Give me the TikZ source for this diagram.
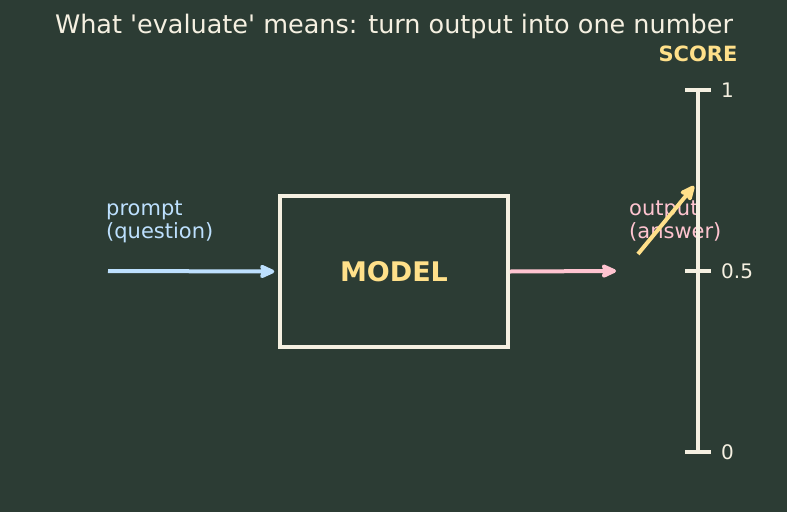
\documentclass[tikz,border=0pt]{standalone}
\usepackage{fontspec}
\setmainfont{DejaVu Sans}
\usepackage{tikz}
\usetikzlibrary{positioning, arrows.meta, calc}
\definecolor{bgd}{HTML}{2C3C34}
\definecolor{chalk}{HTML}{F5F0E1}
\definecolor{gold}{HTML}{FFE08A}
\definecolor{skyb}{HTML}{BDE0FE}
\definecolor{pinkish}{HTML}{FFC4D0}

\begin{document}
\begin{tikzpicture}[x=1pt, y=-1pt,
    flow/.style={line width=4pt, -{Stealth[length=18pt, width=16pt, inset=3pt, round]}},
    lbl/.style={font=\fontsize{21}{23}\selectfont, align=left, inner sep=0pt, anchor=north west},
    tick/.style={line width=3.5pt, chalk}]
    \fill[bgd] (0,0) rectangle (787,512);
    \useasboundingbox (0,0) rectangle (787,512);

    % title
    \node[text=chalk, font=\fontsize{25.5}{28}\selectfont] (title) at (394,26)
      {What \textquotesingle evaluate\textquotesingle{} means: turn output into one number};

    % model box
    \node[draw=chalk, line width=3.5pt, minimum width=228pt, minimum height=151pt,
          text=gold, font=\fontsize{27}{29}\selectfont\bfseries] (model) at (394,271.5) {MODEL};

    % input side
    \coordinate (pin) at (108,271);
    \draw[flow, skyb] (pin) -- ($(model.west)+(-4,0)$);
    \node[lbl, text=skyb] (prompt) at (106,201) {prompt\\(question)};

    % output side
    \coordinate (pout) at (616,271);
    \draw[flow, pinkish] (model.east) -- (pout);
    \node[lbl, text=pinkish] (answer) at (629,201) {output\\(answer)};

    % score scale
    \coordinate (top) at (698,90);
    \coordinate (mid) at (698,271);
    \coordinate (bot) at (698,452);
    \draw[tick] (top) -- (bot);
    \foreach \p/\v in {top/1, mid/0.5, bot/0} {
      \draw[tick] ($(\p)+(-13,0)$) -- ($(\p)+(13,0)$);
      \node[text=chalk, anchor=west, inner sep=0pt, font=\fontsize{20}{22}\selectfont]
        (val-\p) at ($(\p)+(23,0)$) {\v};
    }
    \node[text=gold, font=\fontsize{21}{23}\selectfont\bfseries] (score) at (698,54) {SCORE};

    % mapping to a number
    \coordinate (from) at (638,254);
    \coordinate (to) at (694,186);
    \draw[flow, gold] (from) -- (to);
\end{tikzpicture}
\end{document}
